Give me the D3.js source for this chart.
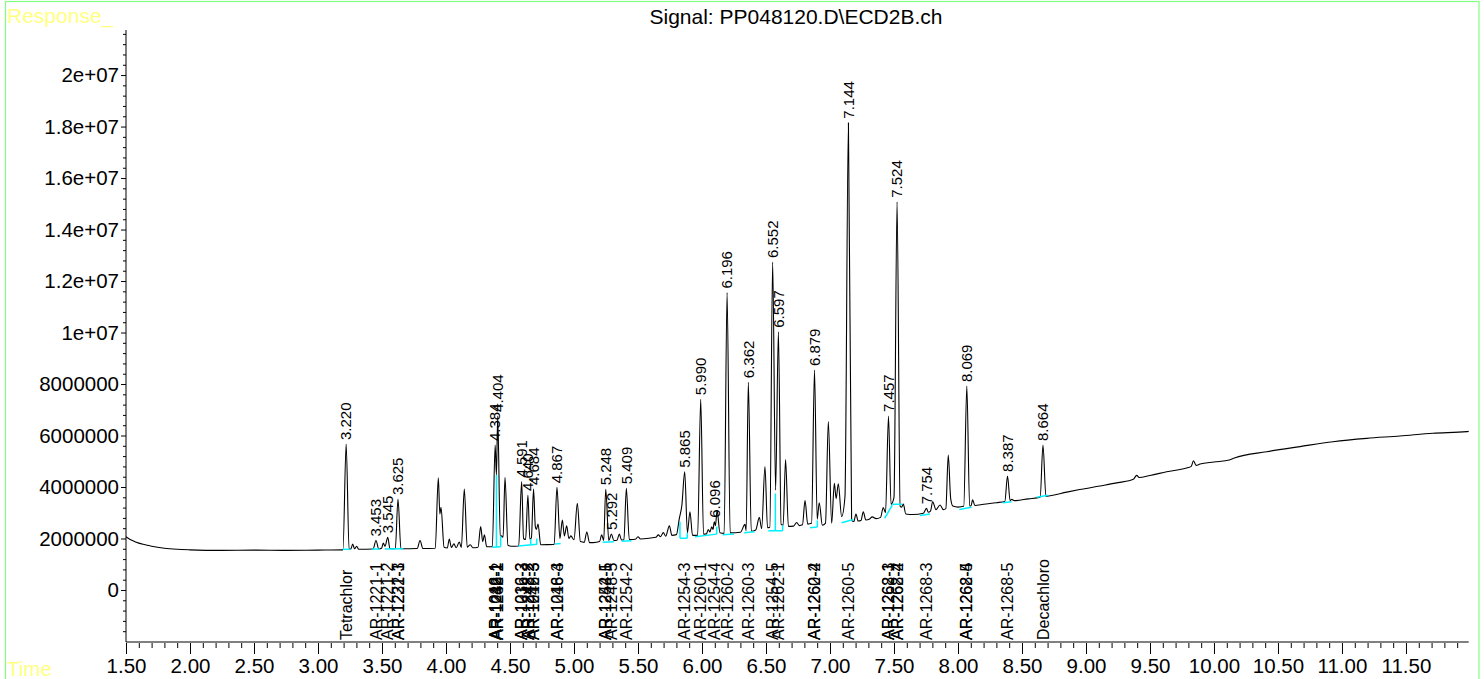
<!DOCTYPE html>
<html><head><meta charset="utf-8">
<script src="https://cdn.jsdelivr.net/npm/d3@7"></script>
<style>
body{margin:0;background:#fff;}
svg{display:block;font-family:"Liberation Sans",Arial,sans-serif;}
</style>
</head><body>
<svg id="chart" width="1484" height="679"></svg>
<script>
// ---- data ----
const signal = [
[1.50,2.07e6],[1.52,2.00e6],[1.55,1.92e6],[1.60,1.82e6],[1.65,1.76e6],[1.70,1.70e6],[1.80,1.62e6],[1.90,1.58e6],[2.00,1.56e6],[2.25,1.54e6],[2.50,1.55e6],[2.75,1.54e6],[3.00,1.55e6],[3.195,1.56e6],
[3.220,5.67e6],[3.243,1.58e6],[3.258,1.60e6],[3.271,1.78e6],[3.286,1.60e6],[3.302,1.70e6],[3.318,1.58e6],[3.430,1.59e6],[3.453,1.92e6],[3.474,1.60e6],[3.497,1.62e6],[3.510,1.82e6],[3.524,1.70e6],[3.545,2.05e6],[3.562,1.61e6],[3.604,1.60e6],[3.625,3.53e6],[3.648,1.60e6],[3.775,1.61e6],[3.797,1.92e6],[3.820,1.61e6],[3.916,1.62e6],[3.940,4.36e6],[3.952,2.95e6],[3.961,3.21e6],[3.985,1.66e6],[4.010,1.63e6],[4.026,1.98e6],[4.042,1.65e6],[4.062,1.79e6],[4.080,1.64e6],[4.104,1.86e6],[4.120,1.65e6],[4.143,3.92e6],[4.166,1.66e6],[4.190,1.76e6],[4.210,1.64e6],[4.250,1.66e6],[4.271,2.46e6],[4.287,1.88e6],[4.300,2.14e6],[4.318,1.68e6],[4.362,1.68e6],
[4.384,5.63e6],[4.394,4.47e6],[4.404,6.76e6],[4.424,2.05e6],[4.435,2.10e6],[4.446,2.05e6],[4.461,4.38e6],[4.484,1.74e6],[4.510,1.70e6],[4.568,1.71e6],[4.591,4.21e6],[4.606,2.00e6],[4.622,1.96e6],[4.640,3.69e6],[4.655,1.98e6],[4.667,2.02e6],[4.684,3.92e6],[4.698,2.45e6],[4.706,2.35e6],[4.719,2.56e6],[4.740,1.76e6],[4.845,1.77e6],[4.867,3.99e6],[4.890,2.00e6],[4.909,2.72e6],[4.925,2.10e6],[4.943,2.49e6],[4.960,2.00e6],[4.975,2.10e6],[5.000,1.95e6],[5.026,3.37e6],[5.050,1.88e6],[5.080,1.85e6],[5.100,2.25e6],[5.122,1.84e6],[5.151,1.84e6],[5.200,1.88e6],[5.216,2.14e6],[5.232,1.92e6],
[5.248,3.91e6],[5.272,1.92e6],[5.292,2.17e6],[5.312,1.92e6],[5.336,1.93e6],[5.354,2.17e6],[5.372,1.94e6],[5.390,1.95e6],[5.409,3.95e6],[5.432,1.96e6],[5.480,1.97e6],[5.500,2.07e6],[5.520,1.98e6],[5.600,2.02e6],[5.640,2.05e6],[5.659,2.14e6],[5.676,2.07e6],[5.698,2.23e6],[5.716,2.09e6],[5.745,2.49e6],[5.765,2.12e6],[5.800,2.15e6],[5.823,2.78e6],[5.843,3.30e6],[5.865,4.59e6],[5.886,2.22e6],[5.906,3.04e6],[5.926,2.12e6],[5.966,2.12e6],[5.990,7.41e6],[6.012,2.17e6],[6.035,2.18e6],[6.049,2.35e6],[6.062,2.25e6],[6.076,2.45e6],[6.086,2.35e6],[6.096,2.65e6],[6.105,2.50e6],[6.118,3.10e6],[6.140,2.22e6],[6.173,2.20e6],
[6.196,11.55e6],[6.220,2.22e6],[6.300,2.24e6],[6.336,2.55e6],[6.345,2.30e6],[6.362,8.07e6],[6.385,2.28e6],[6.420,2.33e6],[6.448,2.82e6],[6.466,2.38e6],[6.492,4.79e6],[6.512,2.42e6],[6.530,2.44e6],[6.552,12.74e6],[6.575,3.88e6],[6.597,10.03e6],[6.618,2.55e6],[6.634,2.52e6],[6.653,5.07e6],[6.675,2.47e6],[6.715,2.48e6],[6.740,2.62e6],[6.760,2.50e6],[6.785,2.53e6],[6.805,3.47e6],[6.826,2.56e6],[6.856,2.59e6],[6.879,8.54e6],[6.900,2.75e6],[6.916,3.39e6],[6.940,2.52e6],[6.965,2.60e6],[6.987,6.54e6],[7.013,2.59e6],[7.034,4.14e6],[7.048,3.55e6],[7.065,4.12e6],[7.091,2.85e6],[7.117,3.62e6],
[7.144,18.15e6],[7.169,2.70e6],[7.186,2.66e6],[7.203,2.95e6],[7.220,2.68e6],[7.242,2.70e6],[7.260,3.04e6],[7.280,2.72e6],[7.310,2.76e6],[7.330,2.84e6],[7.360,2.77e6],[7.395,2.82e6],[7.416,3.20e6],[7.434,3.00e6],[7.457,6.76e6],[7.477,3.33e6],[7.500,3.60e6],[7.524,15.08e6],[7.548,3.25e6],[7.560,3.22e6],[7.573,3.34e6],[7.592,2.95e6],[7.650,2.93e6],[7.730,2.98e6],[7.754,3.17e6],[7.768,3.02e6],[7.785,3.06e6],[7.802,3.43e6],[7.828,3.12e6],[7.860,3.30e6],[7.885,3.12e6],[7.905,3.16e6],[7.924,5.24e6],[7.943,3.55e6],[7.960,3.26e6],[8.000,3.22e6],[8.045,3.25e6],[8.069,7.92e6],[8.091,3.26e6],[8.102,3.27e6],[8.114,3.50e6],[8.132,3.28e6],[8.200,3.33e6],[8.300,3.39e6],[8.366,3.44e6],[8.387,4.43e6],[8.407,3.47e6],[8.420,3.52e6],[8.440,3.47e6],[8.550,3.54e6],[8.642,3.60e6],[8.664,5.63e6],[8.687,3.63e6],[8.720,3.66e6],[8.850,3.80e6],[8.950,3.90e6],[9.109,4.04e6],[9.250,4.17e6],[9.370,4.30e6],[9.396,4.45e6],[9.415,4.37e6],[9.500,4.45e6],[9.630,4.59e6],[9.800,4.76e6],[9.822,4.80e6],[9.840,5.02e6],[9.860,4.84e6],[9.891,4.89e6],[10.000,4.97e6],[10.120,5.05e6],[10.160,5.13e6],[10.412,5.37e6],[10.672,5.57e6],[10.930,5.76e6],[11.193,5.89e6],[11.453,5.98e6],[11.710,6.09e6],[11.974,6.15e6],[11.990,6.16e6]
];

const peakLabels = ["3.220","3.453","3.545","3.625","4.384","4.404","4.591","4.640","4.684","4.867","5.248","5.292","5.409","5.865","5.990","6.096","6.196","6.362","6.552","6.597","6.879","7.144","7.457","7.524","7.754","8.069","8.387","8.664"];

const compoundNames = ["Tetrachlor","AR-1221-1","AR-1221-2","AR-1221-3","AR-1232-1","AR-1016-1","AR-1242-1","AR-1248-1","AR-1232-2","AR-1016-2","AR-1232-3","AR-1242-2","AR-1248-2","AR-1016-3","AR-1242-3","AR-1016-4","AR-1248-3","AR-1242-5","AR-1254-1","AR-1248-5","AR-1254-2","AR-1254-3","AR-1260-1","AR-1254-4","AR-1260-2","AR-1260-3","AR-1254-5","AR-1262-1","AR-1260-4","AR-1262-2","AR-1260-5","AR-1268-1","AR-1262-3","AR-1268-2","AR-1262-4","AR-1268-3","AR-1262-5","AR-1268-4","AR-1268-5","Decachloro"];
const compoundTimes = [3.220,3.453,3.545,3.625,3.625,4.384,4.384,4.404,4.404,4.591,4.591,4.640,4.640,4.684,4.684,4.867,4.867,5.248,5.248,5.292,5.409,5.865,5.990,6.096,6.196,6.362,6.552,6.597,6.879,6.879,7.144,7.457,7.457,7.524,7.524,7.754,8.069,8.069,8.387,8.664];

// integration baselines [t1, v1, t2, v2]
const integrationBaselines = [
[3.193,1.58e6,3.255,1.58e6],[3.419,1.59e6,3.484,1.59e6],[3.523,1.59e6,3.666,1.60e6],[4.362,1.66e6,4.427,1.68e6],[4.565,1.71e6,4.713,1.78e6],[4.852,1.79e6,4.896,1.81e6],[5.224,1.85e6,5.312,1.87e6],[5.372,1.89e6,5.450,1.91e6],[5.828,2.01e6,5.885,2.01e6],[5.945,2.07e6,6.115,2.17e6],[6.162,2.15e6,6.250,2.17e6],[6.330,2.22e6,6.410,2.26e6],[6.518,2.30e6,6.630,2.30e6],[6.844,2.42e6,6.901,2.45e6],[7.091,2.61e6,7.182,2.74e6],[7.427,2.78e6,7.487,3.30e6],[7.487,3.33e6,7.565,3.33e6],[7.703,2.89e6,7.781,2.95e6],[8.010,3.13e6,8.106,3.21e6],[8.349,3.39e6,8.419,3.43e6],[8.615,3.60e6,8.706,3.68e6]
];
// drop lines [t, v1, v2]
const dropLines = [[4.394,1.66e6,4.47e6],[4.427,1.68e6,2.10e6],[4.662,1.75e6,1.98e6],[4.709,1.78e6,2.00e6],[5.828,2.01e6,2.65e6],[5.885,2.01e6,2.22e6],[6.115,2.17e6,2.46e6],[6.573,2.30e6,3.75e6],[6.630,2.30e6,2.52e6],[6.901,2.45e6,2.70e6]];

const xTickValues = [1.5,2,2.5,3,3.5,4,4.5,5,5.5,6,6.5,7,7.5,8,8.5,9,9.5,10,10.5,11,11.5];
const yTickValues = [0,2e6,4e6,6e6,8e6,1e7,1.2e7,1.4e7,1.6e7,1.8e7,2e7];
const yTickLabels = ["0","2000000","4000000","6000000","8000000","1e+07","1.2e+07","1.4e+07","1.6e+07","1.8e+07","2e+07"];
const titleText = "Signal: PP048120.D\\ECD2B.ch";

// ---- drawing ----
const svg = d3.select("#chart");
const x = d3.scaleLinear().domain([1.5, 11.99]).range([126, 1468.7]);
const y = d3.scaleLinear().domain([-2.02e6, 21.75e6]).range([642, 30]);

// frame
svg.append("rect").attr("x",5.5).attr("y",1.5).attr("width",1473.5).attr("height",700)
  .attr("fill","none").attr("stroke","#80ff80").attr("stroke-width",1.2);

svg.append("text").attr("x",7).attr("y",22.5).attr("fill","#ffff80").attr("font-size",21).text("Response_");
svg.append("text").attr("x",7).attr("y",676).attr("fill","#ffff80").attr("font-size",20.5).text("Time");
svg.append("text").attr("x",796).attr("y",24).attr("text-anchor","middle").attr("font-size",21).attr("fill","#000").text(titleText);

// x axis minor ticks
const xMinor = d3.range(1.5, 11.95, 0.1).filter(v => Math.abs(v*2 - Math.round(v*2)) > 1e-6);
const gxm = svg.append("g").attr("transform","translate(0,642)")
  .call(d3.axisBottom(x).tickValues(xMinor).tickSize(6).tickFormat(""));
gxm.select(".domain").remove();
const gx = svg.append("g").attr("transform","translate(0,642)")
  .call(d3.axisBottom(x).tickValues(xTickValues).tickSize(12).tickPadding(4).tickFormat(d3.format(".2f")));
gx.select(".domain").remove();
gx.selectAll("text").attr("font-size",20.5).attr("font-family","Liberation Sans, Arial, sans-serif").attr("fill","#000");
svg.selectAll(".tick line").attr("stroke","#000");

// y axis
const yMinor = d3.range(-2e6, 21.7e6, 4e5).filter(v => Math.abs(v/2e6 - Math.round(v/2e6)) > 1e-6);
const gym = svg.append("g").attr("transform","translate(126,0)")
  .call(d3.axisLeft(y).tickValues(yMinor).tickSize(3).tickFormat(""));
gym.select(".domain").remove();
const gy = svg.append("g").attr("transform","translate(126,0)")
  .call(d3.axisLeft(y).tickValues(yTickValues).tickSize(5).tickPadding(2).tickFormat((d,i)=>yTickLabels[i]));
gy.select(".domain").remove();
gy.selectAll("text").attr("font-size",20.5).attr("font-family","Liberation Sans, Arial, sans-serif").attr("fill","#000");
svg.selectAll(".tick line").attr("stroke","#000");

svg.append("line").attr("x1",126).attr("x2",1468.7).attr("y1",642).attr("y2",642).attr("stroke","#808080").attr("stroke-width",2);
svg.append("line").attr("x1",126).attr("x2",126).attr("y1",30).attr("y2",642).attr("stroke","#000").attr("stroke-width",1);

// signal
const line = d3.line().x(d=>x(d[0])).y(d=>y(d[1])).curve(d3.curveMonotoneX);
svg.append("path").datum(signal).attr("d",line).attr("fill","none").attr("stroke","#000").attr("stroke-width",1.1).attr("stroke-linejoin","round");

// integration baselines
svg.append("g").selectAll("line").data(integrationBaselines).join("line")
  .attr("x1",d=>x(d[0])).attr("y1",d=>y(d[1])).attr("x2",d=>x(d[2])).attr("y2",d=>y(d[3]))
  .attr("stroke","#00f0ff").attr("stroke-width",1.5);
svg.append("g").selectAll("line").data(dropLines).join("line")
  .attr("x1",d=>x(d[0])).attr("y1",d=>y(d[1])).attr("x2",d=>x(d[0])).attr("y2",d=>y(d[2]))
  .attr("stroke","#00f0ff").attr("stroke-width",1.5);

// peak labels
function apex(rt){
  let best = null;
  signal.forEach(p => { if (Math.abs(p[0]-rt) <= 0.012 && (!best || p[1] > best[1])) best = p; });
  return best ? best[1] : y.invert(500);
}
svg.append("g").selectAll("text").data(peakLabels).join("text")
  .attr("transform", d => `translate(${x(+d)},${y(apex(+d))-4}) rotate(-90)`)
  .attr("dy","0.35em").attr("font-size",15).attr("fill","#000").text(d=>d);

// compound labels
svg.append("g").selectAll("text").data(compoundNames).join("text")
  .attr("transform", (d,i) => `translate(${x(compoundTimes[i])},640) rotate(-90)`)
  .attr("dy","0.35em").attr("font-size",16).attr("fill","#000").text(d=>d);
</script>
</body></html>
